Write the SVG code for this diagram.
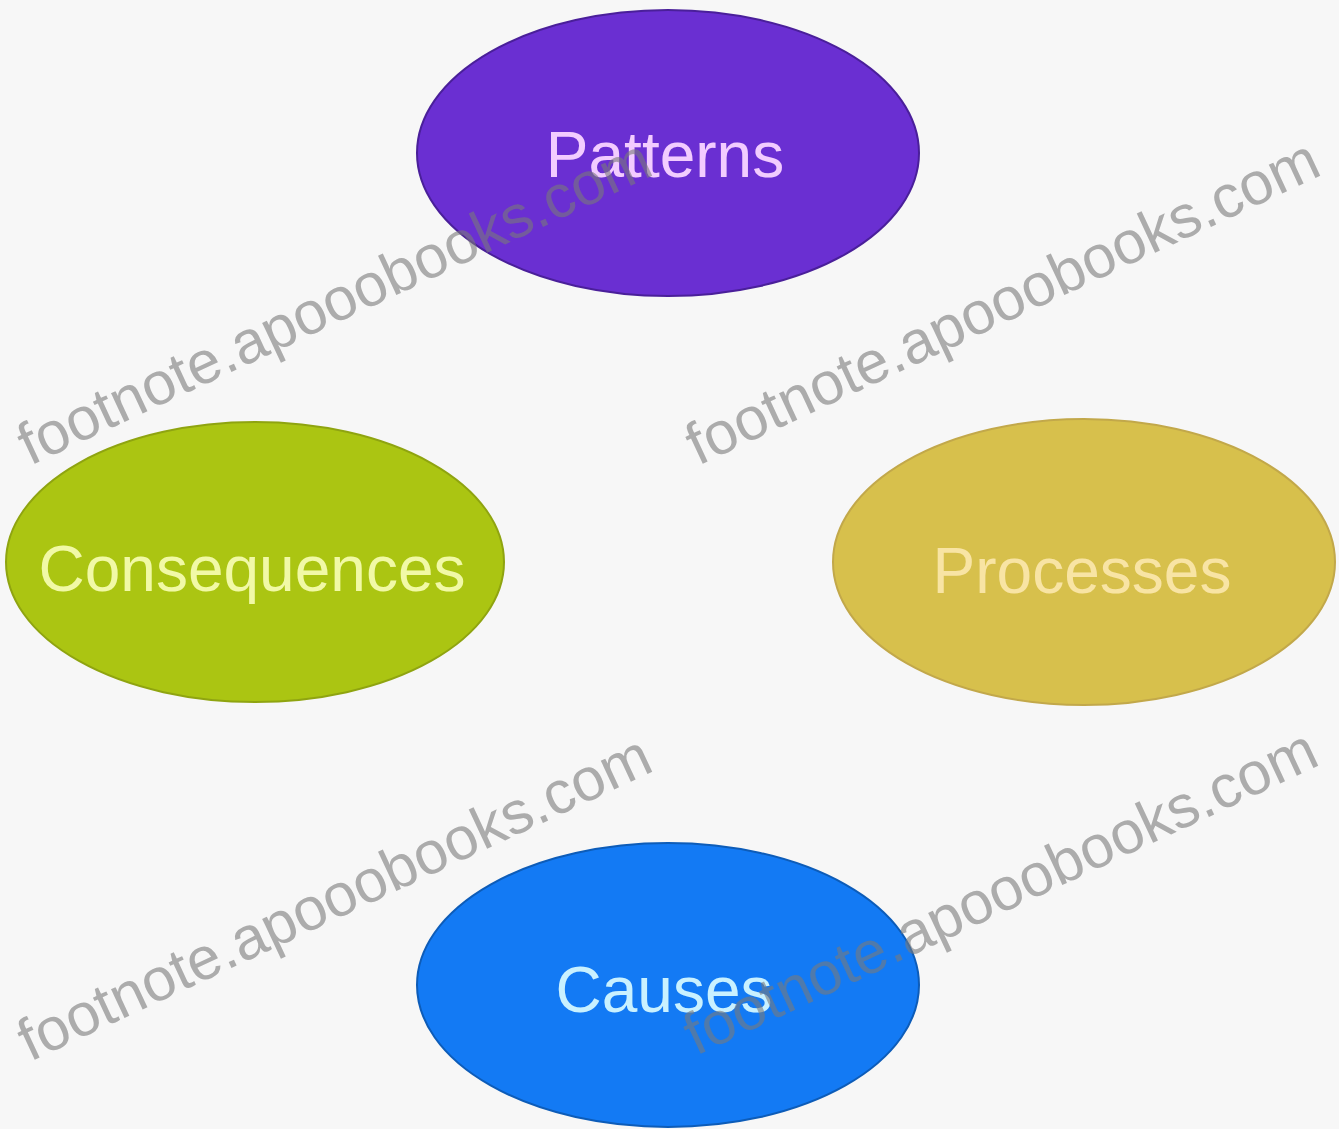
<svg xmlns="http://www.w3.org/2000/svg" width="1339" height="1129" viewBox="0 0 1339 1129">
<style>
.lbl{font-family:"Liberation Sans",Arial,sans-serif;font-size:64px;text-anchor:middle}
.wm{font-family:"Liberation Sans",Arial,sans-serif;font-size:60px;fill:#7a7a7a;fill-opacity:0.6}
</style>
<rect width="1339" height="1129" fill="#f7f7f7"/>
<g id="connectors"/>
<g id="node-patterns">
<ellipse cx="668" cy="153" rx="251" ry="143" fill="#6a2fd2" stroke="#4a1f9a" stroke-width="2"/>
<text class="lbl" x="665" y="177" fill="#f2ccff">Patterns</text>
</g>
<g id="node-consequences">
<ellipse cx="255" cy="562" rx="249" ry="140" fill="#abc512" stroke="#8fa410" stroke-width="2"/>
<text class="lbl" x="252" y="591" fill="#f1f9a6">Consequences</text>
</g>
<g id="node-processes">
<ellipse cx="1084" cy="562" rx="251" ry="143" fill="#d7c04c" stroke="#c2a84a" stroke-width="2"/>
<text class="lbl" x="1082" y="593" fill="#f8e4a4">Processes</text>
</g>
<g id="node-causes">
<ellipse cx="668" cy="985" rx="251" ry="142" fill="#137af4" stroke="#0d5cb8" stroke-width="2"/>
<text class="lbl" x="664" y="1012" fill="#c9f1ff">Causes</text>
</g>
<g id="watermarks">
<text class="wm" transform="translate(30,466) rotate(-25)">footnote.apooobooks.com</text>
<text class="wm" transform="translate(698,466) rotate(-25)">footnote.apooobooks.com</text>
<text class="wm" transform="translate(30,1062) rotate(-25)">footnote.apooobooks.com</text>
<text class="wm" transform="translate(696,1056) rotate(-25)">footnote.apooobooks.com</text>
</g>
</svg>
